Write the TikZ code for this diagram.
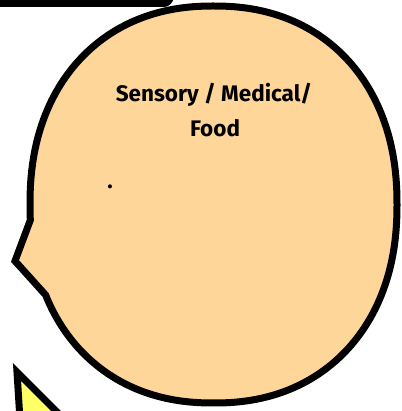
\documentclass[tikz,border=0pt]{standalone}
\usepackage{fontspec}
\setmainfont{Fira Sans}
\definecolor{peach}{HTML}{FFD699}
\definecolor{lemon}{HTML}{FFFF66}
\tikzset{
  outline/.style={draw=black, line width=7pt, line join=miter},
  bubbletext/.style={font=\fontsize{22.5}{26}\selectfont\bfseries, inner sep=0pt, anchor=base, text=black}
}
\begin{document}
\begin{tikzpicture}[x=1pt, y=-1pt]
\useasboundingbox (0,0) rectangle (401,411);
\begin{scope}
  \clip (0,0) rectangle (401,411);
  % bottom edge of a box above the picture
  \draw[outline, fill=white, rounded corners=6.5pt] (-20,-60) rectangle (170,3.5);
  % yellow shape at bottom left
  \draw[outline, fill=lemon] (17,372) -- (22,452) -- (97,452) -- cycle;
  % speech bubble (slightly squarish oval with a pointer)
  \draw[outline, fill=peach]
    plot[domain=155.1:-183.5, samples=320, variable=\t]
      ({213.5+183.5*cos(\t)*pow(abs(cos(\t))+0.000001,-0.0909)},
       {204.5+198.5*sin(\t)*pow(abs(sin(\t))+0.000001,-0.0909)})
    -- (15,261) -- cycle;
\end{scope}
\node[bubbletext] (title1) at (214,102) {Sensory / Medical/};
\node[bubbletext] (title2) at (215,137) {Food};
\node[bubbletext] (dot) at (110,189) {.};
\end{tikzpicture}
\end{document}
